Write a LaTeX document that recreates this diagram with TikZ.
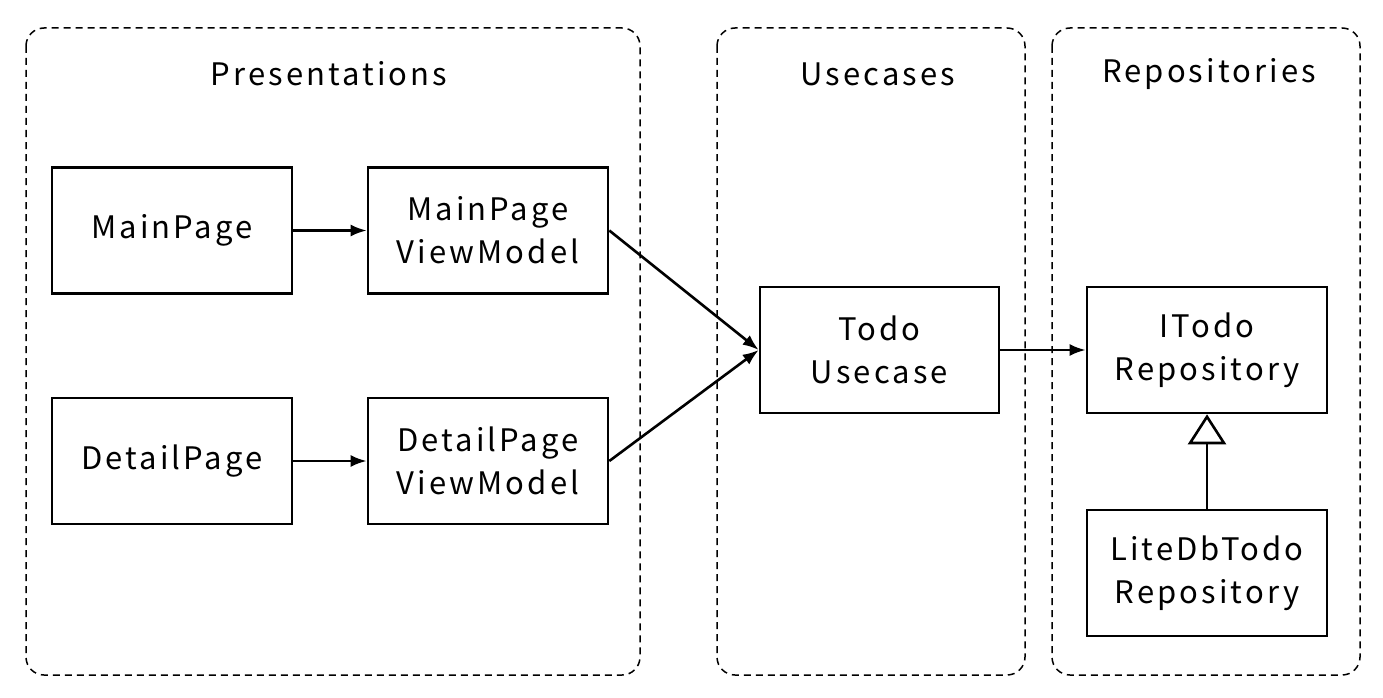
\documentclass[tikz,border=0pt]{standalone}
\usepackage{fontspec}
\setmainfont{Noto Sans CJK JP}[LetterSpace=10]
\usetikzlibrary{arrows.meta}
\begin{document}
\begin{tikzpicture}[x=1pt,y=-1pt,
  group/.style={draw, line width=1.5pt, dash pattern=on 7pt off 5pt, rounded corners=18pt},
  box/.style={draw, line width=2.6pt, minimum width=240pt, minimum height=126pt, align=center, font=\fontsize{31}{43}\selectfont, inner sep=0pt},
  title/.style={font=\fontsize{31}{38}\selectfont},
  conn/.style={line width=2.6pt, -{Latex[length=16pt,width=12pt]}},
  impl/.style={line width=2.6pt, -{Triangle[open,length=30pt,width=38pt,line width=2.6pt]}}
]
\useasboundingbox (0,0) rectangle (1383,698);
\draw[group] (26,28) rectangle (640,675);
\draw[group] (717,28) rectangle (1025,675);
\draw[group] (1052,28) rectangle (1360,675);
\node[title] (tp) at (329,74) {Presentations};
\node[title] (tu) at (878,74) {Usecases};
\node[title] (tr) at (1209,74) {Repositories};
\node[box] (mp) at (172,230.5) {MainPage};
\node[box] (mvm) at (488,230.5) {MainPage\\ViewModel};
\node[box] (dp) at (172,461) {DetailPage};
\node[box] (dvm) at (488,461) {DetailPage\\ViewModel};
\node[box, minimum width=239pt] (uc) at (879.5,350) {Todo\\Usecase};
\node[box] (it) at (1207,350) {ITodo\\Repository};
\node[box] (lt) at (1207,573) {LiteDbTodo\\Repository};
\draw[conn] (mp) -- (mvm);
\draw[conn] (dp) -- (dvm);
\draw[conn] (mvm.east) -- (uc.west);
\draw[conn] (dvm.east) -- (uc.west);
\draw[conn] (uc) -- (it);
\draw[impl] (lt) -- (it);
\end{tikzpicture}
\end{document}
